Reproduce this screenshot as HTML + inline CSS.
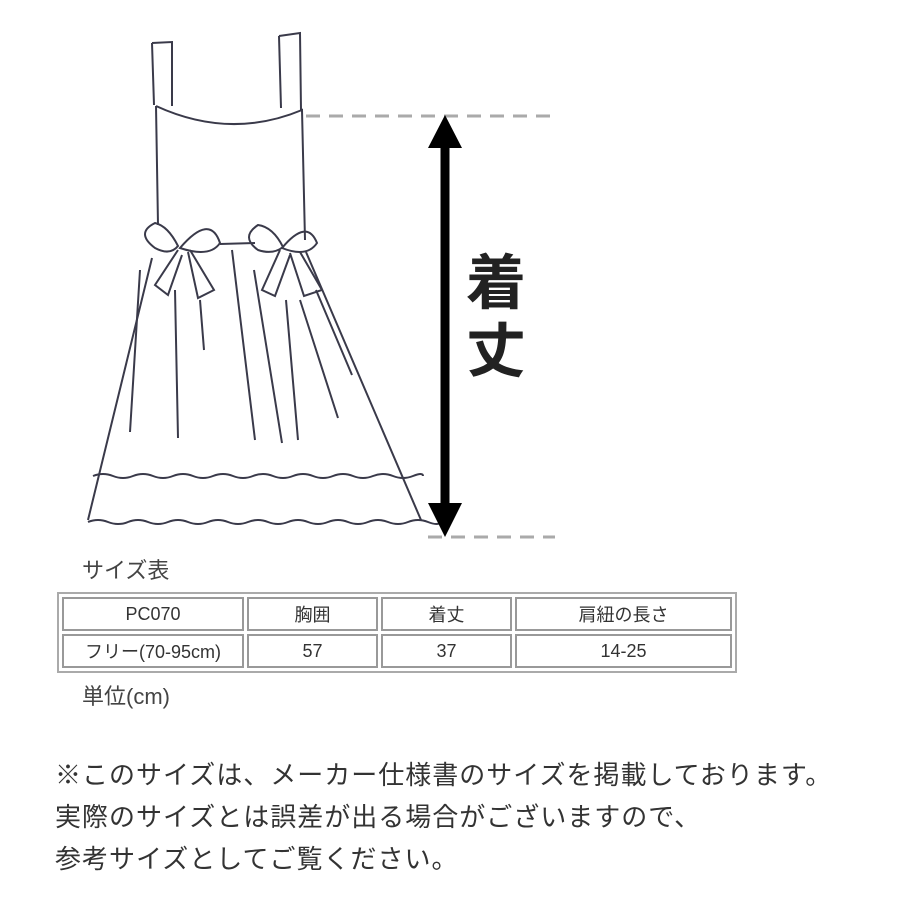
<!DOCTYPE html>
<html><head><meta charset="utf-8"><style>
body{margin:0;width:900px;height:900px;background:#fff;position:relative;overflow:hidden;font-family:"Liberation Sans","Noto Sans CJK JP",sans-serif;}
.t{position:absolute;color:#444;white-space:nowrap;}
table{position:absolute;left:57px;top:592px;width:680px;height:80px;border:2px solid #aaa;border-spacing:3px;}
td{border:2px solid #999;text-align:center;font-size:18px;color:#333;padding:0;height:30px;}
</style></head><body>
<svg width="900" height="560" style="position:absolute;left:0;top:0" fill="none" stroke="#3a3a4a" stroke-width="2">
<path d="M152 43 L172 42 L172 106 M152 43 L154 105"/>
<path d="M279 36 L300 33 L301 110 M279 36 L281 108"/>
<path d="M156 106 Q230 140 302 110 L302 112"/>
<path d="M156 106 L158 225 M302 110 L305 240"/>
<path d="M220 244 L255 243"/>
<path d="M152 258 L88 520 M306 252 L421 520"/>
<path d="M155 223 q-20 10 0 25 q15 8 23 -2 q-10 -20 -23 -23z M180 248 q30 -35 40 -5 q-10 15 -40 5z M178 250 L155 285 L168 295 L182 255 M188 252 L198 298 L214 290 L190 250"/>
<path d="M258 225 q-18 12 0 25 q15 5 25 -3 q-10 -20 -25 -22z M282 248 q25 -30 35 -5 q-10 15 -35 5z M280 250 L262 290 L275 296 L290 255 M290 253 L304 296 L322 290 L300 252"/>
<path d="M140 270 L130 432 M175 290 L178 438 M200 300 L204 350 M232 250 L255 440 M254 270 L282 443 M286 300 L298 440 M300 300 L338 418 M316 290 L352 375"/>
<path d="M93 476 q10 -4 20 0 t20 0 t20 0 t20 0 t20 0 t20 0 t20 0 t20 0 t20 0 t20 0 t20 0 t20 0 t20 0 t20 0 t20 0 t20 0 t10 0"/>
<path d="M88 522 q10 -4 20 0 t20 0 t20 0 t20 0 t20 0 t20 0 t20 0 t20 0 t20 0 t20 0 t20 0 t20 0 t20 0 t20 0 t20 0 t20 0 t20 0 t13 0"/>
<path d="M306 116 L555 116 M428 537 L555 537" stroke="#aaa" stroke-width="3" stroke-dasharray="14 9"/>
<path d="M445 145 L445 505" stroke="#000" stroke-width="9"/>
<polygon points="445,115 428,148 462,148" fill="#000" stroke="none"/>
<polygon points="445,537 428,503 462,503" fill="#000" stroke="none"/>
</svg>
<div class="t" style="left:466px;top:250px;font-size:60px;font-weight:bold;color:#222;line-height:68px;width:64px;">着<br>丈</div>
<div class="t" style="left:82px;top:553px;font-size:22px;">サイズ表</div>
<table><tr><td>PC070</td><td>胸囲</td><td>着丈</td><td>肩紐の長さ</td></tr>
<tr><td style="width:178px">フリー(70-95cm)</td><td style="width:127px">57</td><td style="width:127px">37</td><td>14-25</td></tr></table>
<div class="t" style="left:82px;top:679px;font-size:22px;">単位(cm)</div>
<div class="t" style="left:55px;top:754px;font-size:26px;letter-spacing:1px;line-height:42px;color:#333;">※このサイズは、メーカー仕様書のサイズを掲載しております。<br>実際のサイズとは誤差が出る場合がございますので、<br>参考サイズとしてご覧ください。</div>
</body></html>
